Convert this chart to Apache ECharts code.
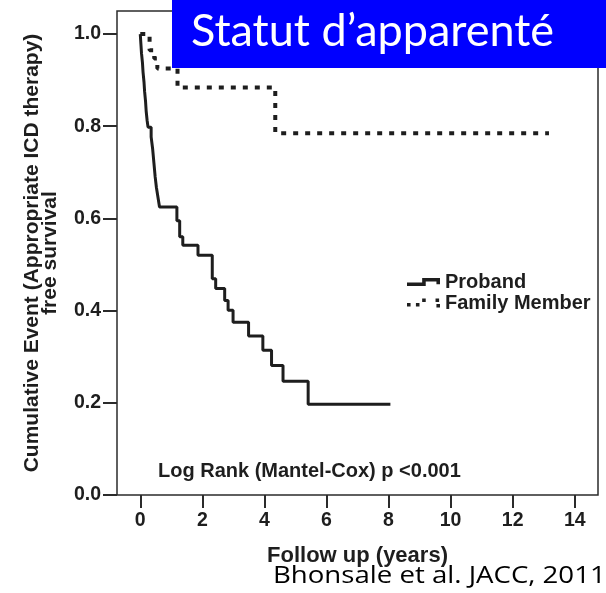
<!DOCTYPE html>
<html>
<head>
<meta charset="utf-8">
<script src="https://cdn.jsdelivr.net/npm/echarts@6/dist/echarts.min.js"></script>
<style>
html, body { margin: 0; padding: 0; background: #fff; }
#km { width: 606px; height: 593px; }
</style>
</head>
<body>
<div id="km"></div>
<script>
// ticks
const xTicks = [0, 2, 4, 6, 8, 10, 12, 14];
const yTicks = [0, 0.2, 0.4, 0.6, 0.8, 1.0];

// Proband (solid)
const probandTime = [0, 0.02, 0.04, 0.07, 0.09, 0.12, 0.14, 0.17, 0.19, 0.22, 0.25, 0.35, 0.40, 0.44, 0.48, 0.52, 0.57, 0.62,
  1.18, 1.27, 1.37, 1.86, 2.32, 2.43, 2.72, 2.83, 2.99, 3.49, 3.95, 4.23, 4.60, 5.41, 8.06];
const probandSurv = [1.0, 0.979, 0.958, 0.938, 0.917, 0.896, 0.875, 0.854, 0.833, 0.813, 0.798, 0.777, 0.750, 0.720, 0.690, 0.667, 0.646, 0.625,
  0.595, 0.560, 0.542, 0.520, 0.469, 0.448, 0.422, 0.401, 0.375, 0.345, 0.314, 0.281, 0.247, 0.197, 0.197];

// Family member (dotted)
const familyTime = [0, 0.30, 0.45, 0.55, 1.20, 4.35, 13.17];
const familySurv = [1.0, 0.965, 0.947, 0.925, 0.884, 0.785, 0.785];

const ink = '#1e1e1e';
const sans = '"Liberation Sans", Arial, sans-serif';

const zip = (t, s) => t.map((v, i) => [v, s[i]]);

let chart = echarts.init(document.getElementById('km'));

const option = {
    animation: false,
    grid: {
        left: 117,
        top: 11,
        right: 8,
        bottom: 98,
        show: true,
        borderColor: '#2b2b2b',
        borderWidth: 1.5
    },
    legend: {
        orient: 'vertical',
        left: 407,
        top: 272,
        padding: 0,
        itemGap: 1,
        itemWidth: 33,
        itemHeight: 10,
        textStyle: {
            color: ink,
            fontFamily: sans,
            fontWeight: 'bold',
            fontSize: 20,
            lineHeight: 20
        },
        data: [
            { name: 'Proband', icon: 'path://M0 5L17 5L17 0L37 0L37 7L33 7L33 4L21 4L21 9L0 9Z' },
            { name: 'Family Member', icon: 'path://M0 5h4v4h-4z M10 5h4v4h-4z M17 0h4v4h-4z M32 0h4v4h-4z M33 6h4v4h-4z' }
        ]
    },
    xAxis: {
        type: 'value',
        min: -0.75,
        max: 14.75,
        name: 'Follow up (years)',
        nameLocation: 'middle',
        nameGap: 50,
        nameTextStyle: {
            color: ink,
            fontFamily: sans,
            fontWeight: 'bold',
            fontSize: 22
        },
        splitLine: { show: false },
        axisLine: { show: false, onZero: false },
        axisTick: {
            show: true,
            length: 13,
            customValues: xTicks,
            lineStyle: { color: '#2b2b2b', width: 2 }
        },
        axisLabel: {
            customValues: xTicks,
            margin: 16,
            color: ink,
            fontFamily: sans,
            fontWeight: 'bold',
            fontSize: 19.5
        }
    },
    yAxis: {
        type: 'value',
        min: 0,
        max: 1.05,
        name: 'Cumulative Event (Appropriate ICD therapy)\nfree survival',
        nameLocation: 'middle',
        nameRotate: 90,
        nameGap: 58,
        nameTextStyle: {
            color: ink,
            fontFamily: sans,
            fontWeight: 'bold',
            fontSize: 21,
            lineHeight: 18
        },
        splitLine: { show: false },
        axisLine: { show: false, onZero: false },
        axisTick: {
            show: true,
            length: 14,
            customValues: yTicks,
            lineStyle: { color: '#2b2b2b', width: 2 }
        },
        axisLabel: {
            customValues: yTicks,
            margin: 16,
            color: ink,
            fontFamily: sans,
            fontWeight: 'bold',
            fontSize: 19.5,
            formatter: (v) => v.toFixed(1)
        }
    },
    series: [
        {
            name: 'Proband',
            type: 'line',
            step: 'end',
            symbol: 'none',
            color: ink,
            lineStyle: { color: ink, width: 3 },
            data: zip(probandTime, probandSurv)
        },
        {
            name: 'Family Member',
            type: 'line',
            step: 'end',
            symbol: 'none',
            color: ink,
            lineStyle: { color: ink, width: 4, type: [5, 7], cap: 'butt' },
            data: zip(familyTime, familySurv)
        }
    ],
    graphic: [
        {
            type: 'rect',
            left: 172,
            top: 0,
            shape: { width: 434, height: 68 },
            style: { fill: '#0000ff' }
        },
        {
            type: 'text',
            left: 191,
            top: 9,
            style: {
                text: 'Statut d\u2019apparenté',
                fill: '#fff',
                font: '45px Lato, "Open Sans", sans-serif'
            }
        },
        {
            type: 'text',
            left: 158,
            top: 461,
            style: {
                text: 'Log Rank (Mantel-Cox) p <0.001',
                fill: ink,
                font: 'bold 20px ' + sans
            }
        },
        {
            // source image is stretched sideways, so widen this line a bit
            type: 'text',
            x: 273,
            y: 565,
            scaleX: 1.2,
            style: {
                text: 'Bhonsale et al. JACC, 2011',
                fill: '#000',
                font: '23px "Open Sans", "Noto Sans", sans-serif'
            }
        }
    ]
};

chart.setOption(option);
window.addEventListener('resize', () => { chart.resize() });
</script>
</body>
</html>
